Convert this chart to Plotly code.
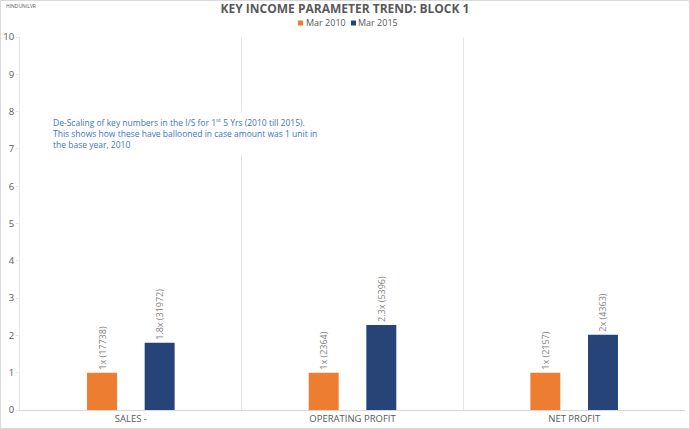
import plotly.graph_objects as go

categories = ["SALES -", "OPERATING PROFIT", "NET PROFIT"]
series_names = ["Mar 2010", "Mar 2015"]
amounts_2010 = [17738, 2364, 2157]
amounts_2015 = [31972, 5396, 4363]
multiple_2010 = [1.0, 1.0, 1.0]
multiple_2015 = [1.80, 2.28, 2.02]
labels_2010 = ["1x (17738)", "1x (2364)", "1x (2157)"]
labels_2015 = ["1.8x (31972)", "2.3x (5396)", "2x (4363)"]
colors = ["#ED7D31", "#264478"]

FONT = "Open Sans"
GRAY = "#595959"

# pixel -> paper helpers (plot area: x 20..685, y 37..410)
def px(x):
    return (x - 20) / 665

def py(y):
    return (410 - y) / 373

fig = go.Figure()
for name, vals, labs, col in [
    (series_names[0], multiple_2010, labels_2010, colors[0]),
    (series_names[1], multiple_2015, labels_2015, colors[1]),
]:
    fig.add_trace(go.Bar(
        x=categories, y=vals, name=name, marker=dict(color=col, line=dict(width=0)),
        text=labs, textposition="outside", textangle=-90,
        textfont=dict(family=FONT, size=9, color="#7f7f7f"),
        constraintext="none", cliponaxis=False, showlegend=False,
    ))

legend_x = [300.5, 353.5]
shapes = [dict(type="rect", xref="paper", yref="paper",
               x0=px(0.5), x1=px(689.5), y0=py(428.5), y1=py(0.5),
               line=dict(color="#d9d9d9", width=1), layer="below")]
annotations = [
    dict(xref="paper", yref="paper", x=px(48), y=py(111),
         xanchor="left", yanchor="top", align="left", showarrow=False,
         bgcolor="white", borderpad=4,
         text=("De-Scaling of key numbers in the I/S for 1<sup>st</sup> 5 Yrs (2010 till 2015).<br>"
               "This shows how these have ballooned in case amount was 1 unit in<br>"
               "the base year, 2010                                                                  "),
         font=dict(family=FONT, size=8.5, color="#4472C4")),
    dict(xref="paper", yref="paper", x=px(4), y=py(1),
         xanchor="left", yanchor="top", showarrow=False, text="HINDUNILVR",
         font=dict(family=FONT, size=5, color=GRAY)),
]
for name, col, lx in zip(series_names, colors, legend_x):
    shapes.append(dict(type="rect", xref="paper", yref="paper",
                       x0=px(lx - 2.5), x1=px(lx + 2.5), y0=py(25.5), y1=py(20.5),
                       fillcolor=col, line=dict(width=0)))
    annotations.append(dict(xref="paper", yref="paper", x=px(lx + 3), y=py(23),
                            xanchor="left", yanchor="middle", showarrow=False, text=name,
                            font=dict(family=FONT, size=9, color=GRAY)))

fig.update_layout(
    width=690, height=429,
    margin=dict(l=20, r=5, t=37, b=19, autoexpand=False),
    paper_bgcolor="white", plot_bgcolor="white",
    barmode="group", bargap=0.48, bargroupgap=0.48,
    showlegend=False,
    font=dict(family=FONT, color=GRAY),
    title=dict(text="<b>KEY INCOME PARAMETER TREND: BLOCK 1</b>", x=0.5, xanchor="center",
               y=1 - 9 / 429, yanchor="middle", font=dict(family=FONT, size=12, color=GRAY)),
    xaxis=dict(showgrid=True, gridcolor="#e6e6e6", tickson="boundaries", ticks="",
               showline=True, linecolor="#d9d9d9", mirror=False,
               tickfont=dict(family=FONT, size=9.5, color=GRAY), range=[-0.5, 2.5]),
    yaxis=dict(range=[0, 10], dtick=1, showgrid=False, zeroline=False, showline=True,
               linecolor="#e6e6e6", ticks="outside", ticklen=3, tickcolor="#e6e6e6",
               tickfont=dict(family=FONT, size=9.5, color=GRAY)),
    annotations=annotations,
    shapes=shapes,
)

fig.write_html("out.html")
